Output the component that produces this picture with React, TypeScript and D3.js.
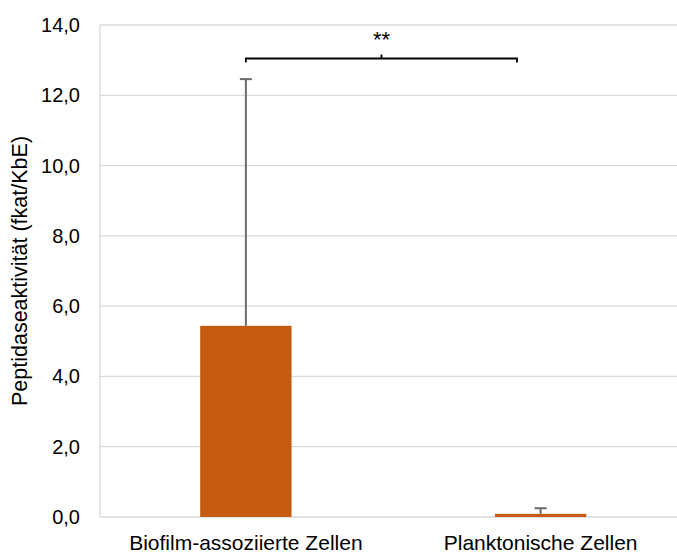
import React from "react";
import * as d3 from "d3";

const categories = ["Biofilm-assoziierte Zellen", "Planktonische Zellen"];
const values = [5.44, 0.09];
const errors = [7.02, 0.16];
const yTicks = [0, 2, 4, 6, 8, 10, 12, 14];
const significance = "**";

const W = 677;
const H = 553;
const margin = { left: 100, right: -11, top: 25, bottom: 36 };

export default function App() {
  const x = d3
    .scaleBand<string>()
    .domain(categories)
    .range([margin.left - 1.5, W - margin.right])
    .paddingInner(0.69)
    .paddingOuter(0.345);
  const y = d3.scaleLinear().domain([0, 14]).range([H - margin.bottom, margin.top]);
  const fmt = (v: number) => v.toFixed(1).replace(".", ",");
  const font = "Liberation Sans, Arial, sans-serif";
  const cx = (c: string) => (x(c) as number) + x.bandwidth() / 2;
  const x1 = cx(categories[0]);
  const x2 = 517;
  const bracketY = 58.5;
  const mid = (x1 + x2) / 2;
  return (
    <svg width={W} height={H} style={{ position: "absolute", left: 0, top: 0 }} fontFamily={font}>
      <rect width={W} height={H} fill="#fff" />
      {yTicks.map((t) => (
        <g key={t}>
          <line x1={margin.left} x2={W} y1={y(t)} y2={y(t)} stroke="#d9d9d9" strokeWidth={1.3} />
          <text x={80} y={y(t)} dy="0.35em" textAnchor="end" fontSize={20} fill="#000">
            {fmt(t)}
          </text>
        </g>
      ))}
      <line x1={margin.left} x2={margin.left} y1={y(14)} y2={y(0)} stroke="#d9d9d9" strokeWidth={1.3} />
      {categories.map((c, i) => (
        <g key={c}>
          <rect
            x={x(c)}
            width={x.bandwidth()}
            y={y(values[i])}
            height={y(0) - y(values[i])}
            fill="#c55a11"
          />
          <line x1={cx(c)} x2={cx(c)} y1={y(values[i])} y2={y(values[i] + errors[i])} stroke="#6b6b6b" strokeWidth={2} />
          <line x1={cx(c) - 6} x2={cx(c) + 6} y1={y(values[i] + errors[i])} y2={y(values[i] + errors[i])} stroke="#6b6b6b" strokeWidth={2} />
          <text x={cx(c)} y={550} textAnchor="middle" fontSize={21} fill="#000">
            {c}
          </text>
        </g>
      ))}
      <path
        d={`M${x1},${bracketY + 4}V${bracketY}H${x2}V${bracketY + 4}M${mid},${bracketY}V${bracketY - 4}`}
        fill="none"
        stroke="#000"
        strokeWidth={1.8}
      />
      <text x={mid} y={47} textAnchor="middle" fontSize={22} fill="#000">
        {significance}
      </text>
      <text
        transform={`translate(27,${(y(0) + y(14)) / 2}) rotate(-90)`}
        textAnchor="middle"
        fontSize={21.5}
        fill="#000"
      >
        Peptidaseaktivität (fkat/KbE)
      </text>
    </svg>
  );
}
